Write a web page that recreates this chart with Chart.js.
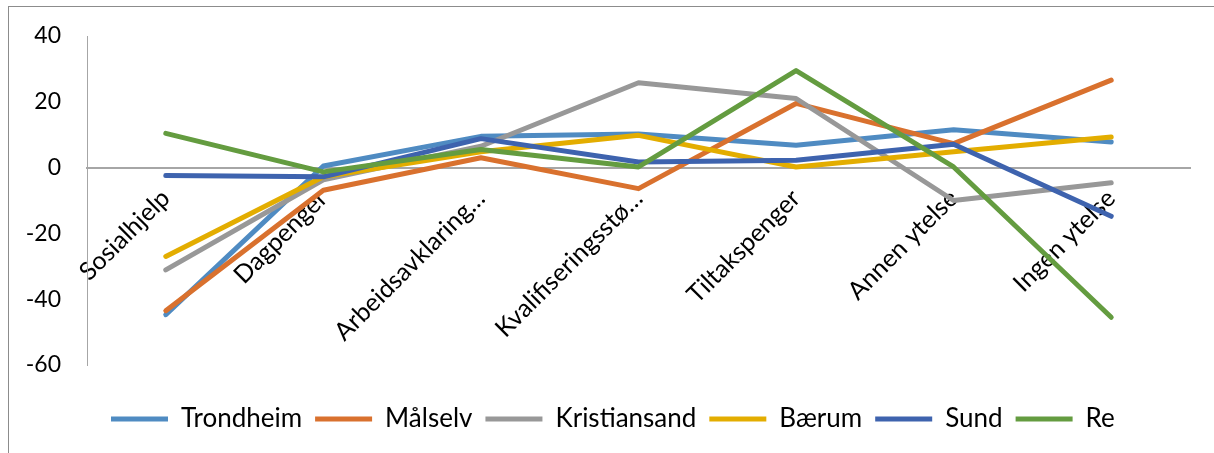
<!DOCTYPE html>
<html><head><meta charset="utf-8">
<script src="https://cdn.jsdelivr.net/npm/chart.js@4"></script>
<style>
html,body{margin:0;padding:0;background:#fff;overflow:hidden;}
#wrap{position:relative;width:1214px;height:453px;}
#frame{position:absolute;left:8px;top:6px;width:1300px;height:500px;border-left:1px solid #8c8c8c;border-top:1px solid #8c8c8c;}
canvas{position:absolute;left:0;top:0;}
</style></head>
<body><div id="wrap"><div id="frame"></div><canvas id="c" width="1214" height="453"></canvas></div>
<script>
const categories = ["Sosialhjelp","Dagpenger","Arbeidsavklaring…","Kvalifiseringsstø…","Tiltakspenger","Annen ytelse","Ingen ytelse"];
const trondheim    = [-44.7,  0.5,  9.5, 10.2,  6.8, 11.5,  7.8];
const malselv      = [-43.5, -6.9,  3.0, -6.4, 19.5,  7.3, 26.6];
const kristiansand = [-31.1, -3.7,  6.5, 25.8, 21.0,-10.0, -4.6];
const baerum       = [-27.0, -2.8,  4.8,  9.8,  0.2,  4.8,  9.3];
const sund         = [ -2.4, -2.8,  8.8,  1.7,  2.2,  7.1,-14.8];
const re           = [ 10.4, -1.3,  5.5,  0.2, 29.5,  0.2,-45.5];
const seriesNames  = ["Trondheim","Målselv","Kristiansand","Bærum","Sund","Re"];
const seriesColors = ["#4F8BC2","#D9712E","#989898","#E3AD00","#3E63AE","#649C40"];
const yTicks = [-60,-40,-20,0,20,40];

const allSeries = [trondheim, malselv, kristiansand, baerum, sund, re];
const FONT = "Lato, 'Open Sans', sans-serif";

const datasets = allSeries.map((d, i) => ({
  label: seriesNames[i],
  data: d,
  borderColor: seriesColors[i],
  backgroundColor: seriesColors[i],
  borderWidth: 5,
  borderCapStyle: 'round',
  borderJoinStyle: 'round',
  pointRadius: 0,
  pointHoverRadius: 0,
  tension: 0,
  fill: false,
  order: allSeries.length - i
}));

const legendShift = {
  id: 'legendShift',
  afterLayout(chart) {
    if (chart.legend) { chart.legend.left += 98; }
  }
};

new Chart(document.getElementById('c'), {
  type: 'line',
  data: { labels: categories, datasets },
  plugins: [legendShift],
  options: {
    responsive: false,
    animation: false,
    events: [],
    layout: { padding: { left: 0, right: 24, top: 36, bottom: 11 } },
    scales: {
      x: {
        type: 'category',
        position: { y: 0 },
        offset: true,
        grid: { display: false },
        border: { display: true, color: '#A6A6A6', width: 2 },
        ticks: { autoSkip: false, minRotation: 45, maxRotation: 45, padding: 8, color: '#000', font: { family: FONT, size: 25 } }
      },
      xSpacer: {
        type: 'category',
        position: 'bottom',
        labels: categories,
        grid: { display: false },
        border: { display: false },
        ticks: { display: false },
        afterFit: s => { s.height = 28; }
      },
      y: {
        min: yTicks[0],
        max: yTicks[yTicks.length - 1],
        afterBuildTicks: s => { s.ticks = yTicks.map(v => ({ value: v })); },
        grid: { display: false },
        border: { display: true, color: '#A6A6A6', width: 1 },
        ticks: { padding: 18, color: '#000', font: { family: FONT, size: 23 } },
        afterFit: s => { s.width = 87; }
      }
    },
    plugins: {
      tooltip: { enabled: false },
      legend: {
        position: 'bottom',
        align: 'start',
        labels: {
          usePointStyle: true,
          pointStyle: 'line',
          pointStyleWidth: 57,
          padding: 13,
          color: '#000',
          font: { family: FONT, size: 26 },
          sort: (a, b) => a.datasetIndex - b.datasetIndex
        }
      }
    }
  }
});
</script>
</body></html>
